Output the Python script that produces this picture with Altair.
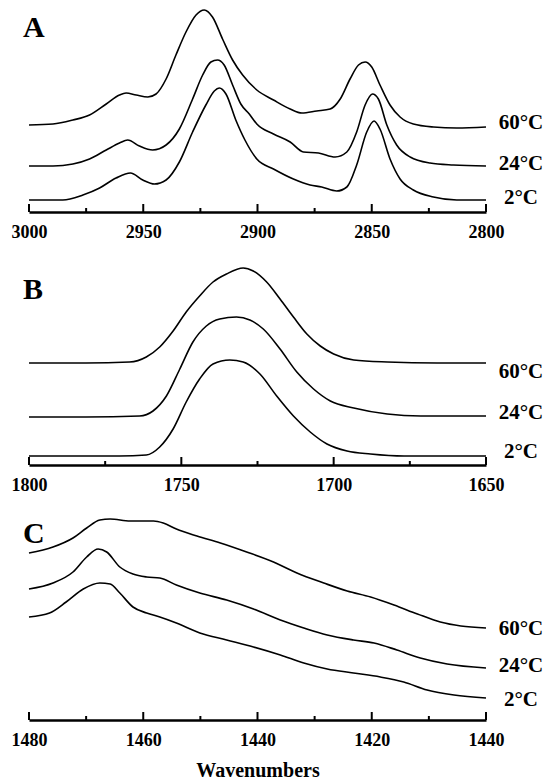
import altair as alt
import pandas as pd

TEMPS = ["60°C", "24°C", "2°C"]

# ---------------- Panel A (3000-2800 cm-1) ----------------
A_60_wn = [3000, 2989.5, 2980.8, 2973.5, 2966.2, 2960.4, 2957.5, 2953.1, 2948, 2944.4, 2940,
           2935.7, 2931.3, 2926.9, 2923.3, 2919.7, 2915.3, 2910.9, 2906.5, 2900.3, 2893, 2885.7,
           2880.6, 2874.1, 2868.2, 2863.8, 2859.5, 2855.8, 2852.9, 2850, 2846.4, 2842, 2837.6,
           2831.8, 2823, 2812.8, 2800]
A_60_h = [87, 88, 92, 97, 108, 117, 119, 117, 115, 118, 133, 157, 180, 197, 202, 195, 173, 152,
          137, 122, 112, 103, 99, 101, 103, 113, 133, 147, 150, 145, 127, 107, 95, 88, 85, 84, 85]

A_24_wn = [3000, 2989.5, 2980.8, 2973.5, 2966.2, 2960.4, 2956.8, 2951.7, 2945.9, 2940, 2934.2,
           2928.4, 2924, 2920.4, 2917.5, 2914.6, 2910.9, 2907.3, 2903.6, 2900.3, 2893, 2885.7,
           2879.9, 2873.3, 2866, 2860.9, 2856.6, 2852.9, 2849.7, 2847.1, 2843.4, 2839.1, 2833.2,
           2824.5, 2814.3, 2800]
A_24_h = [46, 46, 48, 53, 62, 69, 72, 66, 62, 67, 83, 113, 137, 150, 152, 147, 127, 108, 98, 88,
          78, 70, 60, 59, 55, 60, 80, 107, 118, 113, 87, 67, 55, 49, 47, 46]

A_2_wn = [3000, 2985.2, 2976.4, 2969.1, 2961.9, 2955.6, 2950.2, 2945.1, 2940, 2934.2, 2928.4,
          2922.6, 2918.9, 2916.7, 2913.8, 2909.5, 2905.5, 2900.3, 2893, 2884.3, 2877, 2871.9,
          2865.3, 2860.9, 2856.6, 2852.2, 2849, 2846.4, 2842, 2837.6, 2831.8, 2823, 2812.8, 2800]
A_2_h = [12, 12, 17, 24, 34, 39, 32, 28, 32, 50, 80, 107, 121, 124, 118, 92, 72, 53, 43, 33, 27,
         25, 21, 25, 47, 80, 91, 83, 53, 33, 22, 15, 12, 12]

A_major = [3000, 2950, 2900, 2850, 2800]
A_minor = [2975, 2925, 2875, 2825]

# ---------------- Panel B (1800-1650 cm-1) ----------------
B_60_wn = [1800, 1781.3, 1767, 1761.5, 1757.1, 1752.7, 1748.4, 1744, 1739.6, 1735.2, 1729.7,
           1726.4, 1722, 1717.6, 1713.2, 1708.8, 1704.4, 1700, 1693.4, 1682.4, 1666, 1650]
B_60_h = [102, 102, 103, 108, 118, 134, 153, 169, 183, 191, 197, 194, 183, 166, 148, 131, 119,
          111, 105, 103, 102, 102]

B_24_wn = [1800, 1781.3, 1763.7, 1759.3, 1754.9, 1750.5, 1746.2, 1741.8, 1737.4, 1731.9, 1727.5,
           1723.1, 1717.6, 1712.1, 1706.6, 1701.1, 1693.4, 1682.4, 1671.4, 1650]
B_24_h = [48, 48, 49, 54, 69, 96, 123, 139, 146, 148, 145, 136, 116, 93, 76, 64, 57, 51, 49, 49]

B_2_wn = [1800, 1770.3, 1761.5, 1757.1, 1752.7, 1748.4, 1744, 1739.6, 1734.1, 1729.7, 1724.2,
          1718.7, 1713.2, 1707.7, 1702.2, 1695.6, 1687.9, 1676.9, 1650]
B_2_h = [9, 9, 10, 18, 36, 63, 86, 101, 105, 103, 91, 69, 49, 33, 21, 14, 11, 9, 9]

B_major = [1800, 1750, 1700, 1650]
B_minor = [1775, 1725, 1675]

# ---------------- Panel C (1480-1400 cm-1) ----------------
C_60_wn = [1480, 1475.8, 1472.3, 1469.9, 1467.6, 1465.8, 1462.3, 1458.2, 1456.5, 1454.2, 1450.6,
           1446.5, 1441.9, 1437.2, 1433.1, 1428.4, 1424.3, 1420.2, 1416.1, 1412, 1408, 1404.4, 1400]
C_60_h = [167, 173, 182, 192, 200, 201, 199, 199, 197, 191, 184, 177, 168, 158, 147, 137, 129,
          123, 115, 106, 98, 94, 92]

C_24_wn = [1480, 1475.8, 1472.3, 1469.9, 1467.9, 1466.4, 1464.1, 1461.8, 1459.4, 1457.1, 1454.2,
           1450.1, 1445.4, 1440.7, 1436, 1431.9, 1427.8, 1423.2, 1419.6, 1415.6, 1411.5, 1406.8, 1400]
C_24_h = [131, 137, 148, 163, 171, 168, 153, 146, 143, 142, 135, 127, 120, 111, 100, 92, 85, 80,
          77, 70, 62, 56, 52]

C_2_wn = [1480, 1476.4, 1473.5, 1470.5, 1467.6, 1465.8, 1464.1, 1461.8, 1459.4, 1457.1, 1454.2,
          1450.1, 1445.4, 1440.7, 1436, 1431.9, 1427.8, 1423.2, 1418.5, 1414.4, 1410.3, 1405.6, 1400]
C_2_h = [103, 107, 118, 131, 137, 136, 127, 113, 107, 103, 97, 87, 80, 73, 65, 57, 51, 47, 43,
         38, 30, 25, 22]

C_major = [1480, 1460, 1440, 1420, 1400]
C_minor = [1470, 1450, 1430, 1410]

FONT = "Liberation Serif"
W = 457


def panel(curves, letter, letter_h, xdom, major, minor, height, label_h,
          title=None, label_expr=None):
    data = pd.concat(
        [pd.DataFrame({"wn": w, "h": h, "temp": t}) for (w, h, t) in curves],
        ignore_index=True,
    )
    axis_kw = dict(values=major, format="d", ticks=False, grid=False, labelFlush=False,
                   labelOverlap=False, labelPadding=11, domainColor="black", domainWidth=2.6,
                   labelFont=FONT, labelFontSize=18, labelFontWeight="bold", labelColor="black")
    if label_expr:
        axis_kw["labelExpr"] = label_expr
    if title:
        axis_kw.update(title=title, titleFont=FONT, titleFontSize=20, titleFontWeight="bold",
                       titleColor="black", titlePadding=11)
    else:
        axis_kw["title"] = None
    X = alt.X("wn:Q", scale=alt.Scale(domain=xdom, nice=False, zero=False),
              axis=alt.Axis(**axis_kw))
    Y = alt.Y("h:Q", scale=alt.Scale(domain=[0, height], nice=False, zero=False), axis=None)

    lines = alt.Chart(data).mark_line(
        color="black", strokeWidth=1.6, interpolate="monotone"
    ).encode(x=X, y=Y, detail="temp:N")

    tmaj = alt.Chart(pd.DataFrame({"wn": major})).mark_rule(
        color="black", strokeWidth=2
    ).encode(x=X, y=alt.value(height - 8), y2=alt.value(height))
    tmin = alt.Chart(pd.DataFrame({"wn": minor})).mark_rule(
        color="black", strokeWidth=2
    ).encode(x=X, y=alt.value(height - 4), y2=alt.value(height))

    let = alt.Chart(pd.DataFrame({"wn": [xdom[0]], "h": [letter_h], "lab": [letter]})).mark_text(
        align="left", baseline="middle", dx=-6, font=FONT, fontSize=30, fontWeight="bold",
        color="black"
    ).encode(x=X, y=Y, text="lab:N")

    labs = alt.Chart(pd.DataFrame({"wn": [xdom[1]] * 3, "h": label_h, "lab": TEMPS})).mark_text(
        align="center", baseline="middle", dx=35, font=FONT, fontSize=21, fontWeight="bold",
        color="black"
    ).encode(x=X, y=Y, text="lab:N")

    return alt.layer(lines, tmaj, tmin, let, labs).properties(width=W, height=height)


pA = panel([(A_60_wn, A_60_h, "60"), (A_24_wn, A_24_h, "24"), (A_2_wn, A_2_h, "2")],
           "A", 184, [3000, 2800], A_major, A_minor, 208, [89, 48, 14])
pB = panel([(B_60_wn, B_60_h, "60"), (B_24_wn, B_24_h, "24"), (B_2_wn, B_2_h, "2")],
           "B", 175, [1800, 1650], B_major, B_minor, 203, [93, 52, 13])
pC = panel([(C_60_wn, C_60_h, "60"), (C_24_wn, C_24_h, "24"), (C_2_wn, C_2_h, "2")],
           "C", 186, [1480, 1400], C_major, C_minor, 201, [91, 54, 20],
           title="Wavenumbers", label_expr="datum.value == 1400 ? '1440' : datum.label")

chart = alt.vconcat(pA, pB, pC, spacing=21).properties(
    padding={"left": 11, "top": 4, "right": 0, "bottom": 0},
    background="white",
).configure_view(stroke=None)

chart.save("out.html", embed_options={"renderer": "svg", "actions": False})
